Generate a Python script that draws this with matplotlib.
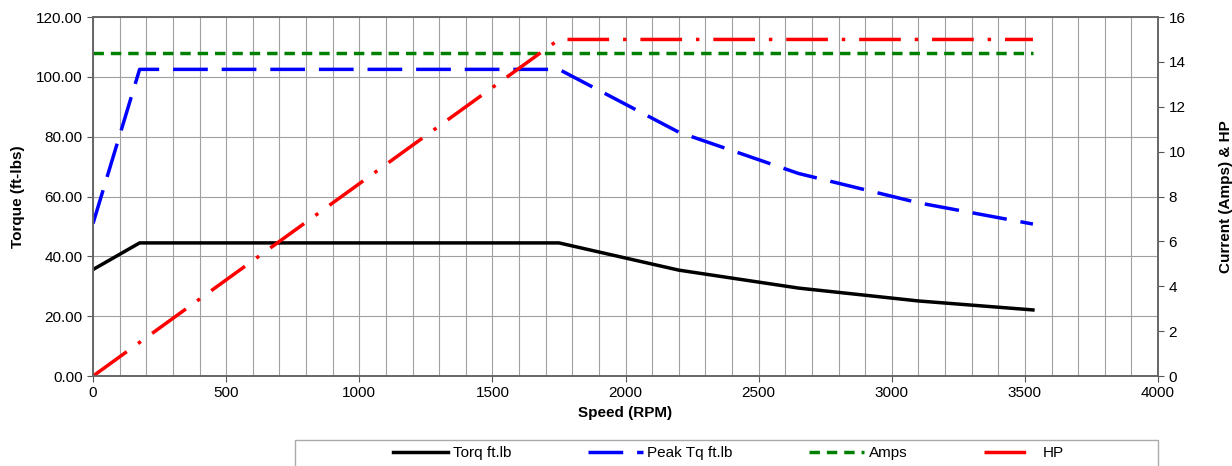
import matplotlib
matplotlib.use("Agg")
import matplotlib.pyplot as plt
from matplotlib.patches import Rectangle
from matplotlib.ticker import MultipleLocator, FormatStrFormatter

plt.rcParams['font.family'] = ['Liberation Sans', 'DejaVu Sans']

# Data
speed = [0, 175, 1750, 2200, 2650, 3100, 3530]
torque = [35.6, 44.5, 44.5, 35.4, 29.4, 25.1, 22.1]
peak_tq = [51.0, 102.5, 102.5, 81.5, 67.7, 57.9, 50.8]
amps_speed = [0, 3530]
amps = [14.4, 14.4]
hp_speed = [0, 1750, 3530]
hp = [0.0, 15.0, 15.0]

fig = plt.figure(figsize=(12.32, 4.66), dpi=100)
ax = fig.add_axes([0.0755, 0.193, 0.8645, 0.7705])
ax2 = ax.twinx()

grid_col = '#a0a0a0'
ax.set_xlim(0, 4000)
ax.set_ylim(0, 120)
ax2.set_ylim(0, 16)
ax.xaxis.set_major_locator(MultipleLocator(500))
ax.xaxis.set_minor_locator(MultipleLocator(100))
ax.yaxis.set_major_locator(MultipleLocator(20))
ax.yaxis.set_major_formatter(FormatStrFormatter('%.2f'))
ax2.yaxis.set_major_locator(MultipleLocator(2))
ax.grid(True, which='both', axis='x', color=grid_col, lw=0.8)
ax.grid(True, which='major', axis='y', color=grid_col, lw=0.8)
ax.set_axisbelow(True)
ax.tick_params(which='minor', length=0)
ax.tick_params(labelsize=11, color='#555555', length=4)
ax2.tick_params(labelsize=11, color='#555555', length=4)
for a in (ax, ax2):
    for s in a.spines.values():
        s.set_color('#666666')
        s.set_linewidth(1.2)

l1, = ax.plot(speed, torque, color='black', lw=2.5, label='Torq ft.lb')
l2, = ax.plot(speed, peak_tq, color='#0000ff', lw=2.5, dashes=(10, 4), label='Peak Tq ft.lb')
l3, = ax2.plot(amps_speed, amps, color='#008000', lw=2.5, dashes=(3, 2), label='Amps')
l4, = ax2.plot(hp_speed, hp, color='#ff0000', lw=2.5, dashes=(12, 4, 1, 4), label='HP')

ax.set_xlabel('Speed (RPM)', fontsize=11, fontweight='bold')
ax.set_ylabel('Torque (ft-lbs)', fontsize=11, fontweight='bold', labelpad=8)
ax2.set_ylabel('Current (Amps) & HP', fontsize=11, fontweight='bold', labelpad=24)

# legend box below the plot, cut off by the figure edge
fig.patches.append(Rectangle((0.2395, -0.05), 0.7005, 0.1058, transform=fig.transFigure,
                             facecolor='white', edgecolor='#aaaaaa', lw=1.0))
fig.legend(handles=[l1, l2, l3, l4], loc='center', ncol=4,
           bbox_to_anchor=(0.5915, 0.028), frameon=False,
           fontsize=11, handlelength=3.6, handletextpad=0.3, columnspacing=5.0)

fig.savefig('out.png', dpi=100)
